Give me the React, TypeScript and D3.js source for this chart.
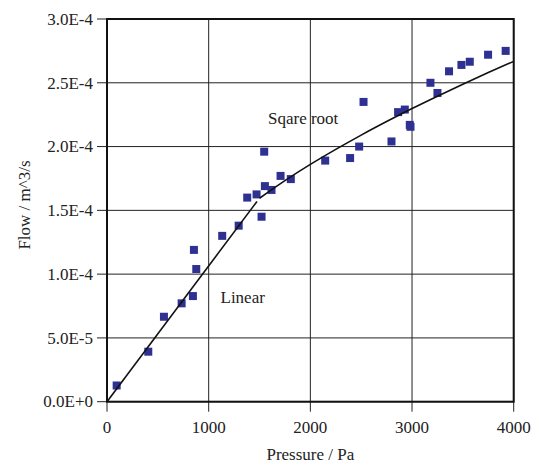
import React from "react";
import * as d3 from "d3";

const pressure = [95, 406, 560, 734, 845, 878, 855, 1133, 1295, 1379, 1471, 1520, 1546, 1553, 1618, 1707, 1808, 2146, 2391, 2480, 2523, 2798, 2863, 2929, 2978, 2985, 3181, 3250, 3364, 3486, 3568, 3748, 3921];
const flow = [1.27e-5, 3.92e-5, 6.66e-5, 7.71e-5, 8.28e-5, 10.4e-5, 11.9e-5, 13.0e-5, 13.8e-5, 16.0e-5, 16.25e-5, 14.5e-5, 19.6e-5, 16.9e-5, 16.6e-5, 17.7e-5, 17.45e-5, 18.9e-5, 19.1e-5, 20.0e-5, 23.5e-5, 20.4e-5, 22.7e-5, 22.9e-5, 21.7e-5, 21.55e-5, 25.0e-5, 24.2e-5, 25.9e-5, 26.4e-5, 26.65e-5, 27.2e-5, 27.5e-5];

const linearX = [0, 1475];
const linearY = [0, 15.7e-5];

const sqrtX = [1500, 1750, 2000, 2250, 2500, 2750, 3000, 3250, 3500, 3750, 4000];
const sqrtY = [15.95e-5, 17.33e-5, 18.6e-5, 19.78e-5, 20.9e-5, 21.96e-5, 22.98e-5, 23.95e-5, 24.89e-5, 25.8e-5, 26.68e-5];

const xTicks = [0, 1000, 2000, 3000, 4000];
const yTicks = [0, 5e-5, 1e-4, 1.5e-4, 2e-4, 2.5e-4, 3e-4];
const yTickLabels = ["0.0E+0", "5.0E-5", "1.0E-4", "1.5E-4", "2.0E-4", "2.5E-4", "3.0E-4"];

export default function App() {
  const W = 539, H = 465;
  const x = d3.scaleLinear().domain([0, 4000]).range([107, 513.7]);
  const y = d3.scaleLinear().domain([0, 3e-4]).range([401.7, 19]);
  const textStyle: React.CSSProperties = { fontFamily: '"Liberation Serif", "Times New Roman", Times, "DejaVu Serif", serif' };

  const lin = d3.line<number>().x((d) => x(linearX[d])).y((d) => y(linearY[d]));
  const sq = d3
    .line<number>()
    .x((d) => x(sqrtX[d]))
    .y((d) => y(sqrtY[d]))
    .curve(d3.curveMonotoneX);

  const [x0, x1] = x.range();
  const [y0, y1] = y.range();

  return (
    <svg width={W} height={H} style={{ position: "absolute", left: 0, top: 0 }}>
      <rect width={W} height={H} fill="#fff" />
      {xTicks.map((t) => (
        <line key={"gx" + t} x1={x(t)} x2={x(t)} y1={y1} y2={y0} stroke="#222" strokeWidth={1} />
      ))}
      {yTicks.map((t) => (
        <line key={"gy" + t} x1={x0} x2={x1} y1={y(t)} y2={y(t)} stroke="#222" strokeWidth={1} />
      ))}
      {xTicks.map((t) => (
        <line key={"tx" + t} x1={x(t)} x2={x(t)} y1={y0} y2={y0 + 10} stroke="#222" strokeWidth={1} />
      ))}
      {yTicks.map((t) => (
        <line key={"ty" + t} x1={x0 - 10} x2={x0} y1={y(t)} y2={y(t)} stroke="#222" strokeWidth={1} />
      ))}
      <rect x={x0} y={y1} width={x1 - x0} height={y0 - y1} fill="none" stroke="#111" strokeWidth={2} />
      <g style={textStyle} fill="#222" fontSize={17}>
        {xTicks.map((t) => (
          <text key={"lx" + t} x={x(t)} y={433} textAnchor="middle">
            {t}
          </text>
        ))}
        {yTicks.map((t, i) => (
          <text key={"ly" + t} x={93} y={y(t)} dy="0.34em" textAnchor="end">
            {yTickLabels[i]}
          </text>
        ))}
        <text x={(x0 + x1) / 2} y={460} textAnchor="middle">
          Pressure / Pa
        </text>
        <text transform={`translate(30,205) rotate(-90)`} textAnchor="middle">
          Flow / m^3/s
        </text>
      </g>
      {pressure.map((p, i) => (
        <rect key={"p" + i} x={x(p) - 4} y={y(flow[i]) - 4} width={8} height={8} fill="#2e3192" />
      ))}
      <path d={lin(d3.range(linearX.length)) || ""} fill="none" stroke="#111" strokeWidth={1.6} />
      <path d={sq(d3.range(sqrtX.length)) || ""} fill="none" stroke="#111" strokeWidth={1.6} />
      <g style={textStyle} fill="#222" fontSize={17}>
        <text x={268} y={123.5}>
          Sqare root
        </text>
        <text x={220.5} y={303}>
          Linear
        </text>
      </g>
    </svg>
  );
}
